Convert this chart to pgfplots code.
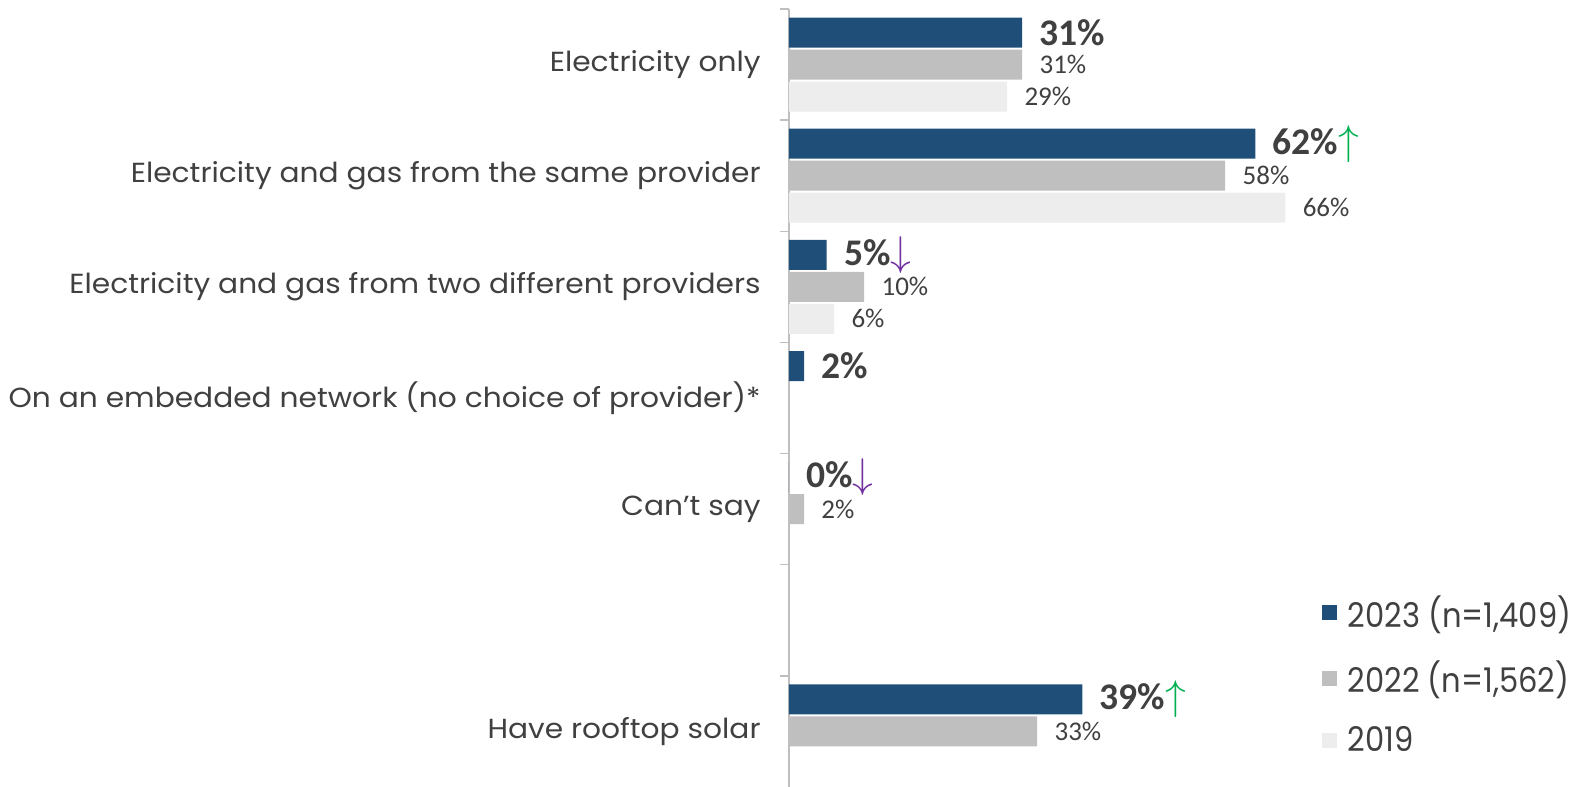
\documentclass[border=0pt]{standalone}
\usepackage{graphicx}
\usepackage{pgfplots}
\pgfplotsset{compat=1.18}
\usepackage{fontspec}
\setmainfont{Poppins}
\newfontfamily\calibri{Carlito}
\definecolor{c2023}{HTML}{1F4E79}
\definecolor{c2022}{HTML}{BFBFBF}
\definecolor{c2019}{HTML}{EDEDED}
\definecolor{txt}{HTML}{404040}
\definecolor{upg}{HTML}{00B050}
\definecolor{downp}{HTML}{7030A0}
\newcommand\up{{\mdseries\fontsize{21}{21}\selectfont\textcolor{upg}{$\uparrow$}}}
\newcommand\down{{\mdseries\fontsize{21}{21}\selectfont\textcolor{downp}{$\downarrow$}}}
\newcommand\lab[1]{\scalebox{1.075}[1]{#1}}

\begin{document}
\begin{tikzpicture}
\useasboundingbox (0,0) rectangle (790.5pt,393.5pt);
\begin{axis}[
  at={(394.5pt,0pt)}, anchor=south west,
  scale only axis, width=396pt, height=389pt,
  xmin=0, xmax=105.3, ymin=-0.5, ymax=6.5, y dir=reverse,
  axis x line=none, axis y line*=left,
  y axis line style={draw=c2022, line width=0.75pt, -},
  ytick={0,...,6},
  yticklabels={\lab{Electricity only}, \lab{Electricity and gas from the same provider},
    \lab{Electricity and gas from two different providers},
    \lab{On an embedded network (no choice of provider)*}, \lab{Can’t say}, {}, \lab{Have rooftop solar}},
  major tick length=0pt,
  minor ytick={-0.5,0.5,...,5.5}, minor tick length=4.5pt, tick align=outside,
  minor tick style={draw=c2022, line width=0.75pt},
  yticklabel style={font=\fontsize{13.8}{15}\selectfont, text=txt, inner xsep=0pt, xshift=-14pt},
  xbar, bar width=15pt,
  nodes near coords, point meta=explicit symbolic,
  every node near coord/.append style={anchor=west, text=txt, inner xsep=0pt, xshift=8.5pt},
  clip=false,
  legend image code/.code={\fill[#1] (0pt,-3.75pt) rectangle (7.5pt,3.75pt);},
  legend style={draw=none, fill=none, inner sep=0pt, at={(0.672,0.247)}, anchor=north west,
    row sep=15.5pt, column sep=5.5pt, font=\fontsize{17}{17}\selectfont, text=txt,
    nodes={inner sep=0pt}},
  legend cell align=left,
]
\addplot[fill=c2023, draw=none, bar shift=16pt,
  every node near coord/.append style={font=\calibri\bfseries\fontsize{18.8}{18.8}\selectfont}]
  coordinates {(31,0) [31\%] (62,1) [62\%\up] (5,2) [5\%\down] (2,3) [2\%] (0,4) [0\%\down] (39,6) [39\%\up]};
\addlegendentry{\scalebox{0.9}[1]{2023 (n=1,409)}}
\addplot[fill=c2022, draw=none, bar shift=0pt,
  every node near coord/.append style={font=\calibri\fontsize{13.5}{13.5}\selectfont}]
  coordinates {(31,0) [31\%] (58,1) [58\%] (10,2) [10\%] (2,4) [2\%] (33,6) [33\%]};
\addlegendentry{\scalebox{0.9}[1]{2022 (n=1,562)}}
\addplot[fill=c2019, draw=none, bar shift=-16pt,
  every node near coord/.append style={font=\calibri\fontsize{13.5}{13.5}\selectfont}]
  coordinates {(29,0) [29\%] (66,1) [66\%] (6,2) [6\%]};
\addlegendentry{\scalebox{0.9}[1]{2019}}
\end{axis}
\end{tikzpicture}
\end{document}
